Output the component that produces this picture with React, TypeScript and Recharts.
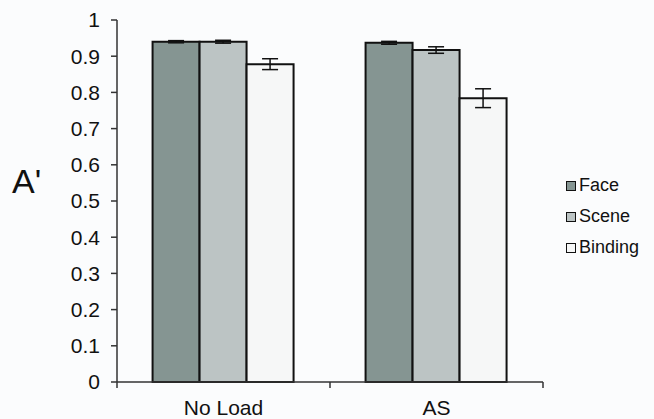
import React from "react";
import { BarChart, Bar, XAxis, YAxis, ErrorBar } from "recharts";

const CONDITIONS = ["No Load", "AS"];
const FACE = [0.94, 0.937];
const FACE_ERR = [0.003, 0.004];
const SCENE = [0.94, 0.917];
const SCENE_ERR = [0.004, 0.009];
const BINDING = [0.878, 0.784];
const BINDING_ERR = [0.015, 0.026];
const Y_TICKS = [0, 0.1, 0.2, 0.3, 0.4, 0.5, 0.6, 0.7, 0.8, 0.9, 1];

const SERIES = [
  { key: "face", name: "Face", color: "#859592" },
  { key: "scene", name: "Scene", color: "#bcc4c4" },
  { key: "binding", name: "Binding", color: "#f6f7f7" },
];

const data = CONDITIONS.map((c, i) => ({
  condition: c,
  face: FACE[i],
  faceErr: FACE_ERR[i],
  scene: SCENE[i],
  sceneErr: SCENE_ERR[i],
  binding: BINDING[i],
  bindingErr: BINDING_ERR[i],
}));

const FONT = "Arial, 'Liberation Sans', sans-serif";
const W = 654;
const H = 419;
const M = { top: 20, right: 111, bottom: 0, left: 0 };
const Y_W = 117;
const HALF_BAND = (W - M.right - M.left - Y_W) / CONDITIONS.length / 2;

// category labels centred, tick marks on the category boundaries
function CatTick(props: any) {
  const { x, y, payload, index } = props;
  const last = index === CONDITIONS.length - 1;
  return (
    <g>
      <line x1={x - HALF_BAND} x2={x - HALF_BAND} y1={y} y2={y + 6} stroke="#333" strokeWidth={1.5} />
      {last && (
        <line x1={x + HALF_BAND} x2={x + HALF_BAND} y1={y} y2={y + 6} stroke="#333" strokeWidth={1.5} />
      )}
      <text x={x} y={y + 33} textAnchor="middle" fill="#111" fontSize={21} fontFamily={FONT}>
        {payload.value}
      </text>
    </g>
  );
}

function LegendBox() {
  return (
    <div
      style={{
        position: "absolute",
        left: 566,
        top: 170,
        fontFamily: FONT,
        fontSize: 18,
        color: "#111",
      }}
    >
      {SERIES.map((s) => (
        <div key={s.key} style={{ display: "flex", alignItems: "center", height: 31 }}>
          <div
            style={{
              width: 8,
              height: 8,
              background: s.color,
              border: "1.5px solid #111",
              marginRight: 3,
            }}
          />
          <span>{s.name}</span>
        </div>
      ))}
    </div>
  );
}

export default function App() {
  return (
    <div style={{ position: "absolute", left: 0, top: 0, width: W, height: H, background: "#fbfcfd" }}>
      <BarChart width={W} height={H} data={data} margin={M} barGap={0} barCategoryGap="16.7%">
        <XAxis
          dataKey="condition"
          tickLine={false}
          height={37}
          tick={<CatTick />}
          tickSize={0}
          tickMargin={0}
          stroke="#333"
          strokeWidth={1.5}
        />
        <YAxis
          width={Y_W}
          domain={[0, 1]}
          ticks={Y_TICKS}
          interval={0}
          tickFormatter={(v: number) => (v === 0 || v === 1 ? String(v) : v.toFixed(1))}
          tick={{ fill: "#111", fontSize: 21, fontFamily: FONT }}
          tickSize={6}
          tickMargin={11}
          stroke="#333"
          strokeWidth={1.5}
          label={{
            value: "A'",
            content: () => (
              <text x={12} y={193} fill="#111" fontSize={34} fontFamily={FONT}>
                A'
              </text>
            ),
          }}
        />
        {SERIES.map((s) => (
          <Bar
            key={s.key}
            dataKey={s.key}
            name={s.name}
            fill={s.color}
            stroke="#111"
            strokeWidth={2}
            isAnimationActive={false}
          >
            <ErrorBar dataKey={`${s.key}Err`} width={8} stroke="#111" strokeWidth={1.5} />
          </Bar>
        ))}
      </BarChart>
      <LegendBox />
    </div>
  );
}
